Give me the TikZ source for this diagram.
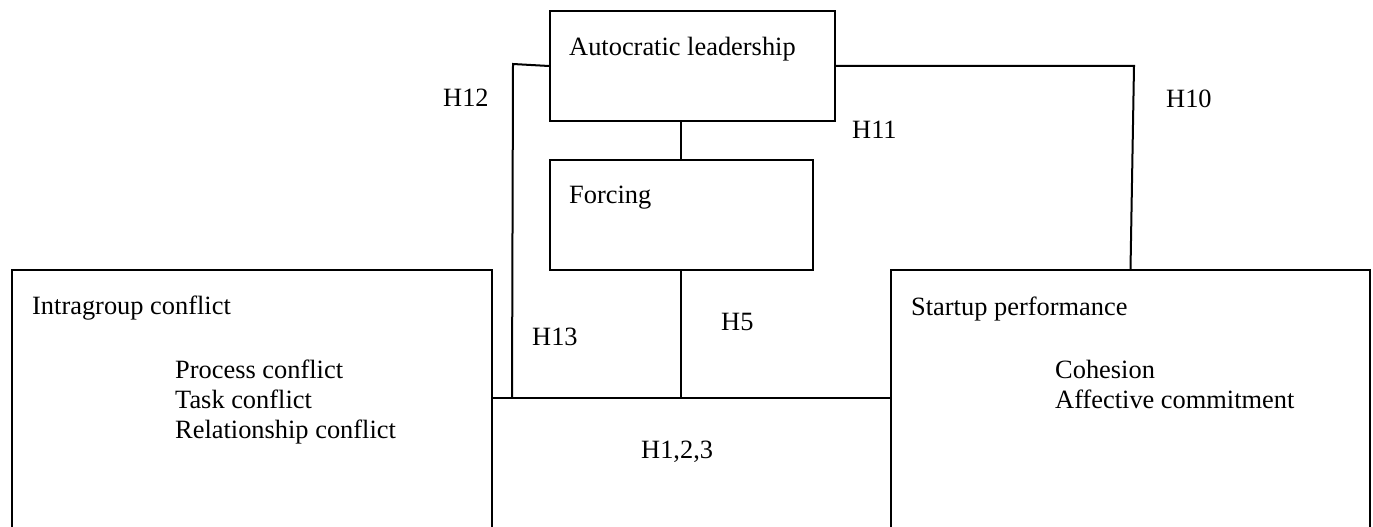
\documentclass[tikz,border=0pt]{standalone}
\usepackage{fontspec}
\setmainfont{Liberation Serif}
\begin{document}
\begin{tikzpicture}[x=1pt,y=-1pt,
  box/.style={draw,line width=2pt,rectangle,anchor=north west,inner sep=0pt},
  link/.style={line width=2pt},
  txt/.style={anchor=base west,inner sep=0pt,font=\fontsize{26.4}{30}\selectfont}]
\useasboundingbox (0,0) rectangle (1373,527);
\clip (0,0) rectangle (1373,527);

% boxes
\node[box,minimum width=285pt,minimum height=110pt] (auto) at (549,10) {};
\node[box,minimum width=263pt,minimum height=110pt] (forcing) at (549,159) {};
\node[box,minimum width=480pt,minimum height=290pt] (intra) at (11,269) {};
\node[box,minimum width=479pt,minimum height=290pt] (perf) at (890,269) {};

% box texts
\node[txt] (tauto) at (569,56) {Autocratic leadership};
\node[txt] (tforc) at (569,203) {Forcing};
\node[txt] (tintra) at (32,314) {Intragroup conflict};
\node[txt] (tproc) at (175,378) {Process conflict};
\node[txt] (ttask) at (175,408) {Task conflict};
\node[txt] (trel) at (175,438) {Relationship conflict};
\node[txt] (tperf) at (911,315) {Startup performance};
\node[txt] (tcoh) at (1055,378) {Cohesion};
\node[txt] (taff) at (1055,408) {Affective commitment};

% junctions
\coordinate (j13) at (512,398);
\coordinate (j5) at (681,398);
\coordinate (c12) at (513,64);
\coordinate (c10) at (1134,66);

% connectors
\draw[link] (intra.east |- j13) -- (perf.west |- j13);
\draw[link] (auto.south -| j5) -- (forcing.north -| j5);
\draw[link] (forcing.south -| j5) -- (j5);
\draw[link] (auto.west) -- (c12) -- (j13);
\draw[link] (auto.east) -- (c10) -- (perf.north);

% hypothesis labels
\node[txt] (h12) at (443,106) {H12};
\node[txt] (h10) at (1166,107) {H10};
\node[txt] (h11) at (852,138) {H11};
\node[txt] (h13) at (532,345) {H13};
\node[txt] (h5) at (721,330) {H5};
\node[txt] (h123) at (641,458) {H1,2,3};
\end{tikzpicture}
\end{document}
